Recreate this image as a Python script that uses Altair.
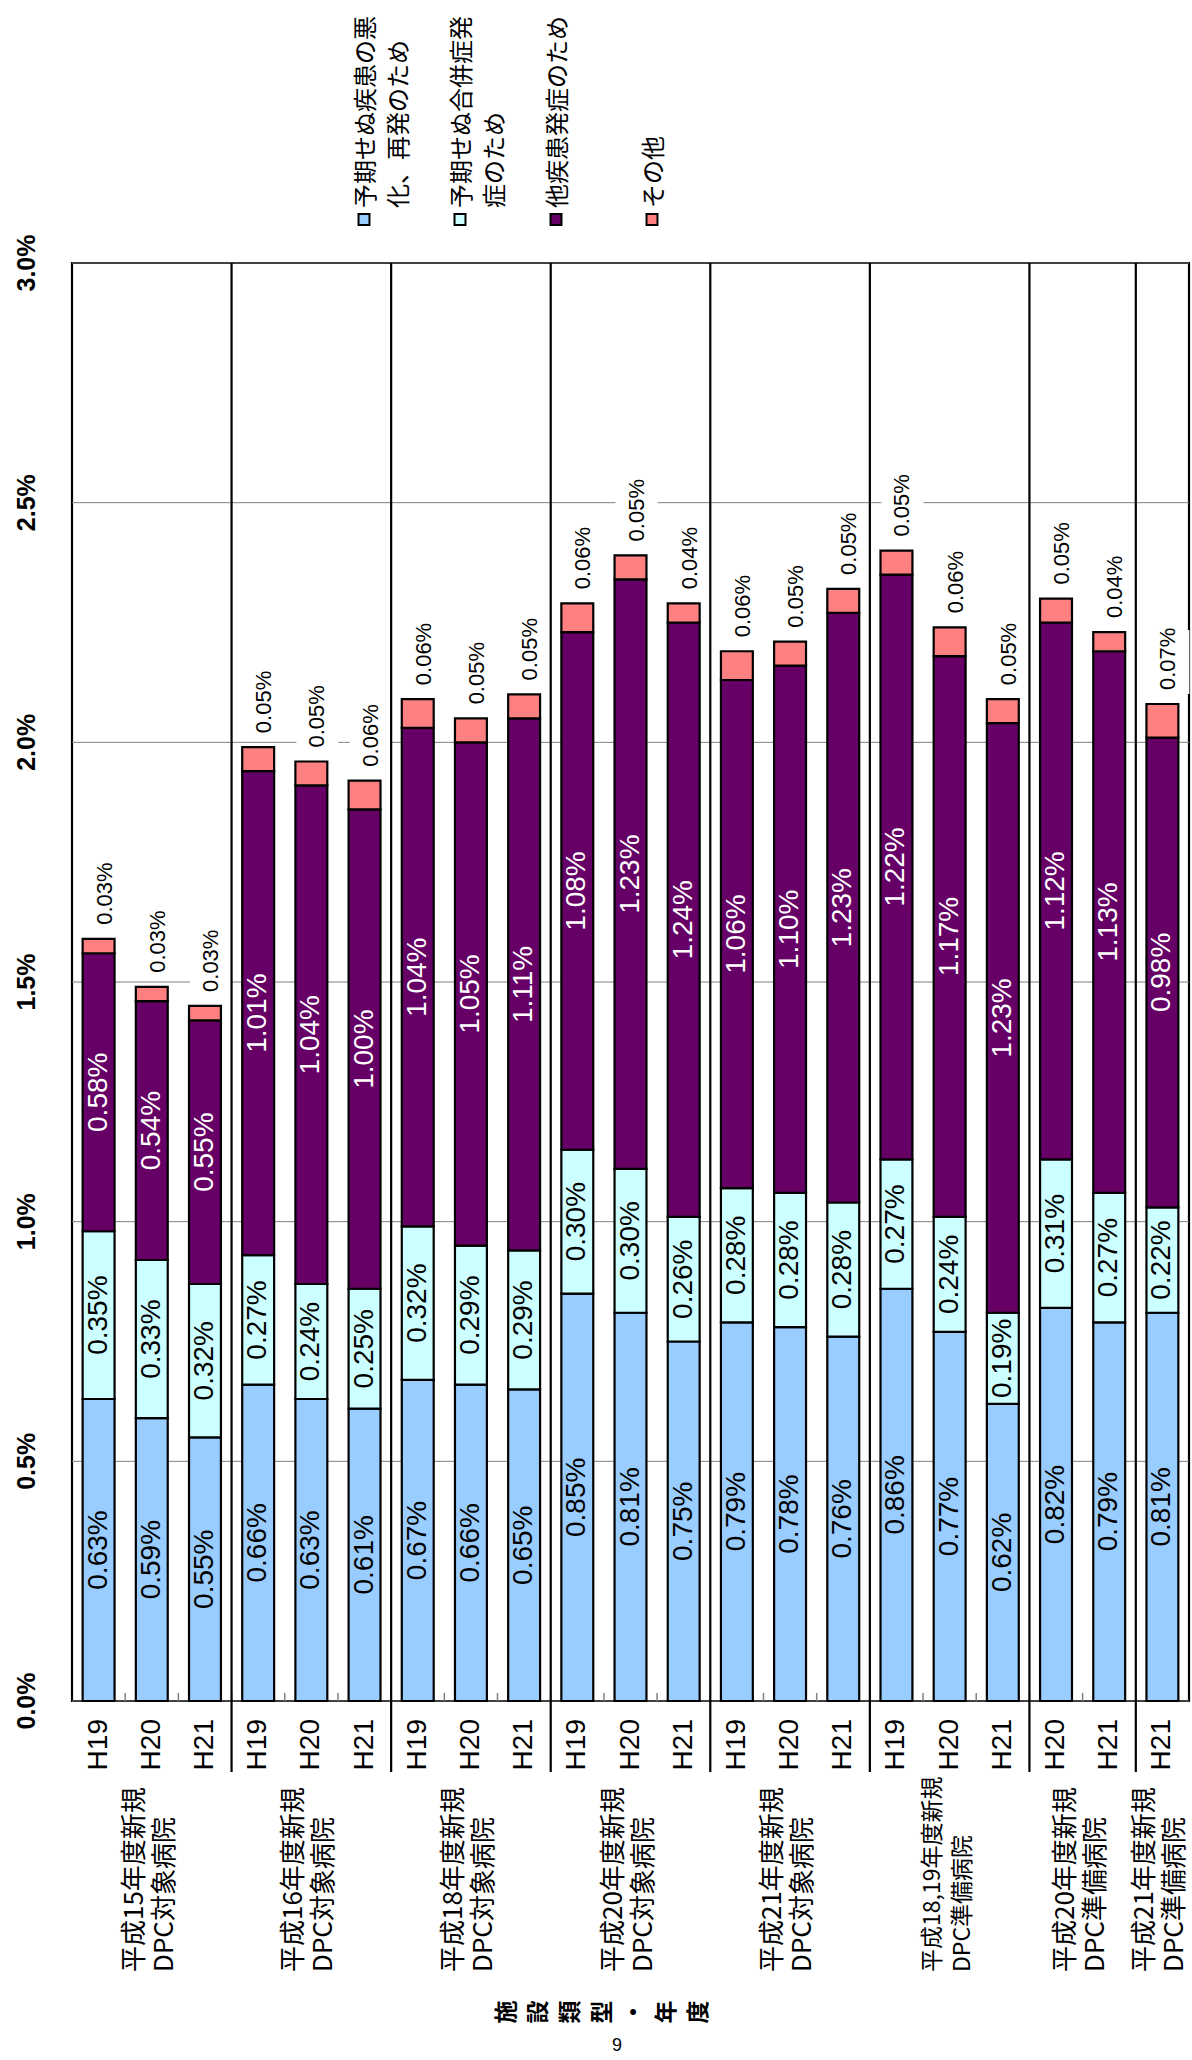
import altair as alt
import pandas as pd

# ---- data -----------------------------------------------------------------
GROUP_LINE1 = ["平成15年度新規", "平成16年度新規", "平成18年度新規", "平成20年度新規",
               "平成21年度新規", "平成18,19年度新規", "平成20年度新規", "平成21年度新規"]
GROUP_LINE2 = ["DPC対象病院", "DPC対象病院", "DPC対象病院", "DPC対象病院",
               "DPC対象病院", "DPC準備病院", "DPC準備病院", "DPC準備病院"]
GROUP_YEARS = [["H19", "H20", "H21"], ["H19", "H20", "H21"], ["H19", "H20", "H21"],
               ["H19", "H20", "H21"], ["H19", "H20", "H21"], ["H19", "H20", "H21"],
               ["H20", "H21"], ["H21"]]

SERIES = ["予期せぬ疾患の悪化、再発のため", "予期せぬ合併症発症のため", "他疾患発症のため", "その他"]
LEGEND_LINES = [["予期せぬ疾患の悪", "化、再発のため"], ["予期せぬ合併症発", "症のため"],
                ["他疾患発症のため"], ["その他"]]
COLORS = ["#99CCFF", "#CCFFFF", "#660066", "#FF8080"]

worsening = [0.63, 0.59, 0.55, 0.66, 0.63, 0.61, 0.67, 0.66, 0.65, 0.85, 0.81,
             0.75, 0.79, 0.78, 0.76, 0.86, 0.77, 0.62, 0.82, 0.79, 0.81]
complication = [0.35, 0.33, 0.32, 0.27, 0.24, 0.25, 0.32, 0.29, 0.29, 0.30, 0.30,
                0.26, 0.28, 0.28, 0.28, 0.27, 0.24, 0.19, 0.31, 0.27, 0.22]
other_disease = [0.58, 0.54, 0.55, 1.01, 1.04, 1.00, 1.04, 1.05, 1.11, 1.08, 1.23,
                 1.24, 1.06, 1.10, 1.23, 1.22, 1.17, 1.23, 1.12, 1.13, 0.98]
other = [0.03, 0.03, 0.03, 0.05, 0.05, 0.06, 0.06, 0.05, 0.05, 0.06, 0.05,
         0.04, 0.06, 0.05, 0.05, 0.05, 0.06, 0.05, 0.05, 0.04, 0.07]

Y_TICKS = [0.0, 0.5, 1.0, 1.5, 2.0, 2.5, 3.0]
AXIS_TITLE = "施設類型・年度"
PAGE_NO = "9"

# ---- layout ---------------------------------------------------------------
PLOT_W, PLOT_H = 1117, 1438
PAD_L, PAD_T, PAD_R = 72, 263, 3
PAD_B = 2060 - PAD_T - PLOT_H
Y_MAX = 3.0
PX_PER_PCT = PLOT_H / Y_MAX
N_BARS = sum(len(g) for g in GROUP_YEARS)
STEP_PX = PLOT_W / N_BARS
BAR_HALF = 0.3

NUM_FONT = "Liberation Sans, Arial"
JP_FONT = "Noto Sans CJK JP"

years = [y for g in GROUP_YEARS for y in g]
series_values = [worsening, complication, other_disease, other]

rows = []
for i in range(N_BARS):
    for k, s in enumerate(SERIES):
        rows.append({"pos": i, "year": years[i], "series": s, "order": k,
                     "value": series_values[k][i]})
df = pd.DataFrame(rows)

x_scale = alt.Scale(domain=[-0.5, N_BARS - 0.5], nice=False, zero=False)
y_scale = alt.Scale(domain=[0, Y_MAX], nice=False)
color_scale = alt.Scale(domain=SERIES, range=COLORS)


def X(field):
    return alt.X(field, type="quantitative", scale=x_scale, axis=None)


def Y(field):
    return alt.Y(field, type="quantitative", scale=y_scale, axis=None)


# ---- value axis: gridlines and rotated labels ------------------------------
tick_df = pd.DataFrame({"v": Y_TICKS,
                        "t": [f"{v:.1f}%" for v in Y_TICKS]})
grid = alt.Chart(tick_df).mark_rule(color="#808080", strokeWidth=1).encode(
    y=Y("v"), x=alt.value(0), x2=alt.value(PLOT_W)
)
y_labels = alt.Chart(tick_df).mark_text(
    angle=270, align="center", baseline="alphabetic", font=NUM_FONT, fontSize=25,
    fontWeight="bold", color="black", dy=-37
).encode(y=Y("v"), x=alt.value(0), text="t:N")

# ---- stacked bars ------------------------------------------------------------
base = (
    alt.Chart(df)
    .transform_stack(stack="value", groupby=["pos"],
                     sort=[alt.SortField("order", order="ascending")],
                     as_=["lo", "hi"])
    .transform_calculate(
        x0=f"datum.pos - {BAR_HALF}",
        x1=f"datum.pos + {BAR_HALF}",
        mid="(datum.lo + datum.hi) / 2",
        label="format(datum.value, '.2f') + '%'",
    )
)

bars = base.mark_bar(stroke="black", strokeWidth=2.2).encode(
    x=X("x0"), x2="x1:Q", y=Y("lo"), y2="hi:Q",
    color=alt.Color("series:N", scale=color_scale, legend=None),
)

# values inside the three lower segments
seg_labels = base.transform_filter(alt.datum.order < 3).mark_text(
    angle=270, align="center", baseline="middle", font=NUM_FONT, fontSize=28
).encode(
    x=X("pos"), y=Y("mid"), text="label:N",
    color=alt.condition(alt.datum.order == 2, alt.value("white"), alt.value("black")),
)

# "その他" values above each bar, on a white box that interrupts the grid
top = base.transform_filter(alt.datum.order == 3).transform_calculate(
    lx=f"datum.pos + {6 / STEP_PX}",
    ly=f"datum.hi + {14 / PX_PER_PCT}",
    b0=f"datum.hi + {10 / PX_PER_PCT}",
    b1=f"datum.hi + {74 / PX_PER_PCT}",
)
top_boxes = top.mark_rule(color="white", strokeWidth=42).encode(
    x=X("lx"), y=Y("b0"), y2="b1:Q"
)
top_labels = top.mark_text(
    angle=270, align="left", baseline="middle", font=NUM_FONT, fontSize=22, color="black"
).encode(x=X("lx"), y=Y("ly"), text="label:N")

# ---- category axis -----------------------------------------------------------
year_df = pd.DataFrame({"pos": list(range(N_BARS)), "year": years})
x_labels = alt.Chart(year_df).mark_text(
    angle=270, align="right", baseline="middle", font=NUM_FONT, fontSize=28, color="black"
).encode(x=X("pos"), y=alt.value(PLOT_H + 18), text="year:N")

# small inward ticks between bars
btw_df = pd.DataFrame({"b": [i + 0.5 for i in range(N_BARS - 1)]})
ticks = alt.Chart(btw_df).mark_rule(color="#808080", strokeWidth=1.5).encode(
    x=X("b"), y=alt.value(PLOT_H), y2=alt.value(PLOT_H - 8)
)

# group separators running down through the year labels
bounds, c = [], 0
for g in GROUP_YEARS[:-1]:
    c += len(g)
    bounds.append(c - 0.5)
sep = alt.Chart(pd.DataFrame({"b": bounds})).mark_rule(color="black", strokeWidth=2.2).encode(
    x=X("b"), y=alt.value(0), y2=alt.value(PLOT_H + 71)
)

# group names under the year labels
centers, start = [], 0
for g in GROUP_YEARS:
    centers.append(start + (len(g) - 1) / 2)
    start += len(g)
grp_df = pd.DataFrame({
    "c": centers, "l1": GROUP_LINE1, "l2": GROUP_LINE2,
    "fs": [23 if "," in t else 26 for t in GROUP_LINE1],
})
GRP_BOTTOM = 1972 - PAD_T
grp_line1 = alt.Chart(grp_df).mark_text(
    angle=270, align="left", baseline="middle", font=JP_FONT, dy=-17, color="black"
).encode(x=X("c"), y=alt.value(GRP_BOTTOM), text="l1:N",
         size=alt.Size("fs:Q", scale=None, legend=None))
grp_line2 = alt.Chart(grp_df).mark_text(
    angle=270, align="left", baseline="middle", font=JP_FONT, dy=13, color="black"
).encode(x=X("c"), y=alt.value(GRP_BOTTOM), text="l2:N",
         size=alt.Size("fs:Q", scale=None, legend=None))

# ---- legend (rotated, above the plot) ---------------------------------------
LEG_X0, LEG_STEP, LEG_LINE, LEG_Y = 292, 96, 33, -43.5
legend_swatches = [
    alt.Chart(pd.DataFrame({"series": [s]})).mark_square(
        size=120, stroke="black", strokeWidth=2, opacity=1
    ).encode(
        x=alt.value(LEG_X0 + i * LEG_STEP), y=alt.value(LEG_Y),
        color=alt.Color("series:N", scale=color_scale, legend=None),
    )
    for i, s in enumerate(SERIES)
]
legend_text = [
    alt.Chart(pd.DataFrame({"t": [t]})).mark_text(
        angle=270, align="left", baseline="middle", font=JP_FONT, fontSize=24, color="black"
    ).encode(
        x=alt.value(LEG_X0 + i * LEG_STEP + 3 + j * LEG_LINE), y=alt.value(LEG_Y - 11.5),
        text="t:N",
    )
    for i, lines in enumerate(LEGEND_LINES) for j, t in enumerate(lines)
]

# ---- axis title, one rotated character at a time, and the page number -------
TITLE_X0, TITLE_STEP, TITLE_Y = 507 - PAD_L, 32, 2012 - PAD_T
title_chars = [
    alt.Chart(pd.DataFrame({"t": [ch]})).mark_text(
        angle=270, align="center", baseline="middle", font=JP_FONT, fontSize=23,
        fontWeight="bold", color="black"
    ).encode(x=alt.value(TITLE_X0 + i * TITLE_STEP), y=alt.value(TITLE_Y), text="t:N")
    for i, ch in enumerate(AXIS_TITLE)
]
page_no = alt.Chart(pd.DataFrame({"t": [PAGE_NO]})).mark_text(
    align="center", baseline="middle", font=NUM_FONT, fontSize=18, color="black"
).encode(x=alt.value(617 - PAD_L), y=alt.value(2046 - PAD_T), text="t:N")

chart = (
    alt.layer(grid, y_labels, bars, seg_labels, top_boxes, top_labels, x_labels, ticks, sep,
              grp_line1, grp_line2, *legend_swatches, *legend_text, *title_chars, page_no)
    .properties(
        width=PLOT_W, height=PLOT_H,
        padding={"left": PAD_L, "top": PAD_T, "right": PAD_R, "bottom": PAD_B},
        autosize=alt.AutoSizeParams(type="none"),
        background="white",
    )
    .configure_view(stroke="black", strokeWidth=2.2)
)

chart.save("out.html", embed_options={"renderer": "svg", "actions": False})
